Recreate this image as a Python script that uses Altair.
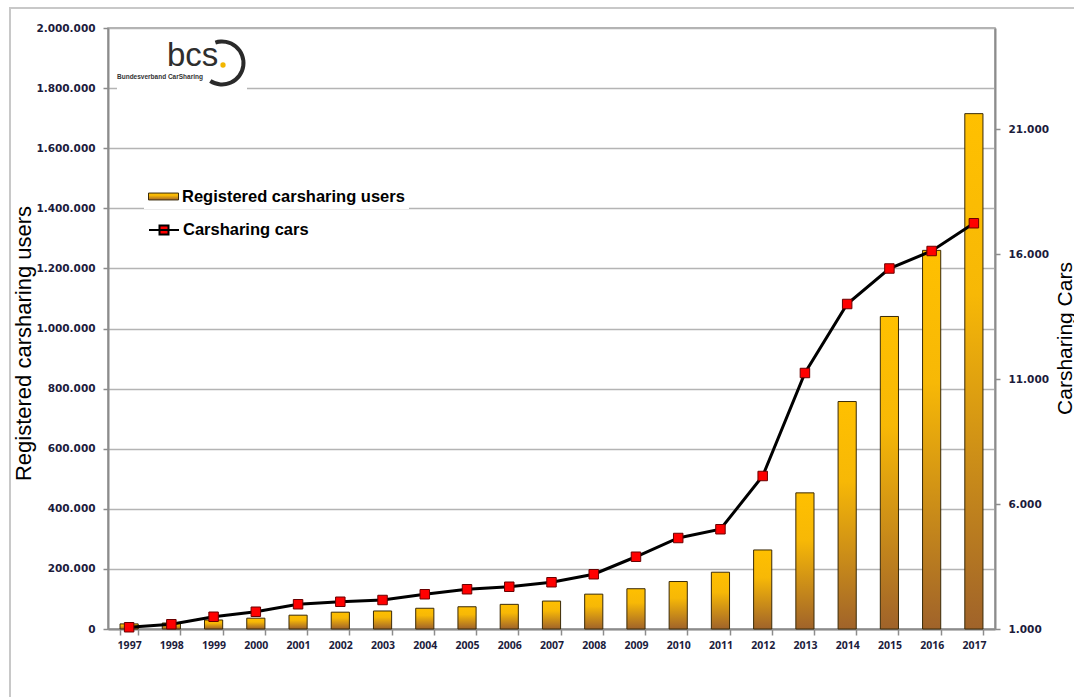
import altair as alt
import pandas as pd

years = [str(y) for y in range(1997, 2018)]
users = [17000, 20000, 30000, 36000, 46000, 56000, 60000, 69000, 74000, 82000, 93000,
         116000, 134000, 158000, 189000, 263000, 453000, 757000, 1040000, 1260000, 1715000]
cars = [1070, 1190, 1490, 1690, 1990, 2090, 2160, 2390, 2590, 2690, 2870,
        3190, 3890, 4640, 4990, 7120, 11240, 14000, 15420, 16120, 17230]
left_ticks = [0, 200000, 400000, 600000, 800000, 1000000, 1200000, 1400000, 1600000, 1800000, 2000000]
right_ticks = [1000, 6000, 11000, 16000, 21000]
users_name = "Registered carsharing users"
cars_name = "Carsharing cars"

df = pd.DataFrame({"year": years, "users": users, "cars": cars,
                   "s1": users_name, "s2": cars_name})
one = pd.DataFrame({"a": [0]})

W, H = 887, 601
label_expr = "replace(format(datum.value, ','), regexp(',', 'g'), '.')"
tick_font = "DejaVu Sans"
tick_color = "#1c1c3c"

gradient = {
    "gradient": "linear", "x1": 0, "x2": 0, "y1": 0, "y2": 1,
    "stops": [
        {"offset": 0, "color": "#FFC000"},
        {"offset": 0.35, "color": "#F7B806"},
        {"offset": 1, "color": "#A0632A"},
    ],
}

x_enc = alt.X("year:N", sort=years, title=None,
              scale=alt.Scale(paddingInner=0.57),
              axis=alt.Axis(labelAngle=0, tickBand="extent", tickSize=6, labelPadding=5,
                            labelFont="Open Sans", labelFontSize=10.5,
                            labelFontWeight="bold", labelColor=tick_color,
                            domainColor="#8c8c8c", domainWidth=2, tickColor="#8c8c8c",
                            tickWidth=1.5, grid=False))

frame = alt.Chart(one).mark_rect(fill="white", fillOpacity=0, stroke="#c8c8c8", strokeWidth=2).encode(
    x=alt.value(-98), x2=alt.value(990), y=alt.value(-20), y2=alt.value(690))

bars = alt.Chart(df).mark_bar(fill=gradient, strokeWidth=1).encode(
    x=x_enc,
    y=alt.Y("users:Q", title=users_name,
            scale=alt.Scale(domain=[0, 2000000], nice=False),
            axis=alt.Axis(values=left_ticks, labelExpr=label_expr, tickSize=5, labelPadding=8,
                          labelFont=tick_font, labelFontSize=10.5, labelFontWeight="bold",
                          labelColor=tick_color, grid=True, gridColor="#b4b4b4", gridWidth=1.5,
                          domainColor="#8c8c8c", domainWidth=2, tickColor="#8c8c8c", tickWidth=1.5,
                          titleFont="Liberation Sans", titleFontSize=22, titleFontWeight="normal",
                          titleColor="black", titleAngle=270, titleX=-85, titleY=315,
                          titleBaseline="middle", titleAlign="center")),
    stroke=alt.Stroke("s1:N", scale=alt.Scale(range=["#3a2a08"]),
                      legend=alt.Legend(title=None, orient="none", legendX=36, legendY=149,
                                        symbolType="M-1,-0.23H1V0.23H-1Z", symbolSize=900,
                                        symbolFillColor="#FFC000", symbolStrokeColor="#3a2a08",
                                        symbolStrokeWidth=1, symbolOpacity=1,
                                        labelFont="Liberation Sans", labelFontSize=16.5,
                                        labelFontWeight="bold", labelColor="black", labelLimit=400,
                                        labelOffset=3, padding=4, fillColor="white")),
)

line = alt.Chart(df).mark_line(color="black", strokeWidth=3).encode(
    x=alt.X("year:N", sort=years),
    y=alt.Y("cars:Q", title="Carsharing Cars",
            scale=alt.Scale(domain=[1000, 25040], nice=False, zero=False),
            axis=alt.Axis(orient="right", values=right_ticks, labelExpr=label_expr, tickSize=5,
                          labelPadding=8, labelFont=tick_font, labelFontSize=10.5,
                          labelFontWeight="bold", labelColor=tick_color, grid=False,
                          domainColor="#8c8c8c", domainWidth=2, tickColor="#8c8c8c", tickWidth=1.5,
                          titleFont="Liberation Sans", titleFontSize=21, titleFontWeight="normal",
                          titleColor="black", titleAngle=270, titleX=70, titleY=310,
                          titleBaseline="middle", titleAlign="center")),
)

points = alt.Chart(df).mark_square(size=90, stroke="#6a0000", strokeWidth=1, opacity=1).encode(
    x=alt.X("year:N", sort=years),
    y=alt.Y("cars:Q"),
    fill=alt.Fill("s2:N", scale=alt.Scale(range=["#FF0000"]),
                  legend=alt.Legend(title=None, orient="none", legendX=36, legendY=182,
                                    symbolType="M-1,0H1M-0.3,-0.3H0.3V0.3H-0.3Z", symbolSize=900,
                                    symbolFillColor="#FF0000", symbolStrokeColor="black",
                                    symbolStrokeWidth=2, symbolOpacity=1,
                                    labelFont="Liberation Sans", labelFontSize=16.5,
                                    labelFontWeight="bold", labelColor="black", labelLimit=400,
                                    labelOffset=3, padding=4, fillColor="white")),
)

logo_bg = alt.Chart(one).mark_rect(fill="white").encode(
    x=alt.value(9), x2=alt.value(139), y=alt.value(5), y2=alt.value(67))
logo_text = alt.Chart(one).mark_text(text="bcs", font="Liberation Sans", fontSize=33,
                                     color="#2e2e2e", align="left", baseline="alphabetic").encode(
    x=alt.value(59), y=alt.value(38))
logo_dot = alt.Chart(one).mark_circle(size=28, color="#F2B600", opacity=1).encode(
    x=alt.value(115), y=alt.value(37))
logo_arc = alt.Chart(one).mark_arc(innerRadius=19.5, outerRadius=23.5, color="#2a2a2a").encode(
    x=alt.value(114), y=alt.value(35), theta=alt.value(5.97), theta2=alt.value(10.0))
logo_sub = alt.Chart(one).mark_text(text="Bundesverband CarSharing", font="Liberation Sans",
                                    fontSize=6.5, fontWeight="bold", color="#333333",
                                    align="left", baseline="middle").encode(
    x=alt.value(9), y=alt.value(49))

chart = alt.layer(
    frame, bars, alt.layer(line, points), logo_bg, logo_text, logo_dot, logo_arc, logo_sub
).resolve_scale(y="independent", fill="independent").properties(
    width=W, height=H,
    autosize=alt.AutoSizeParams(type="none"),
    padding={"left": 108, "top": 28, "right": 79, "bottom": 68},
    background="white",
).configure_view(stroke="#9a9a9a", strokeWidth=1.5)

chart.save("out.html", embed_options={"renderer": "svg", "actions": False})
